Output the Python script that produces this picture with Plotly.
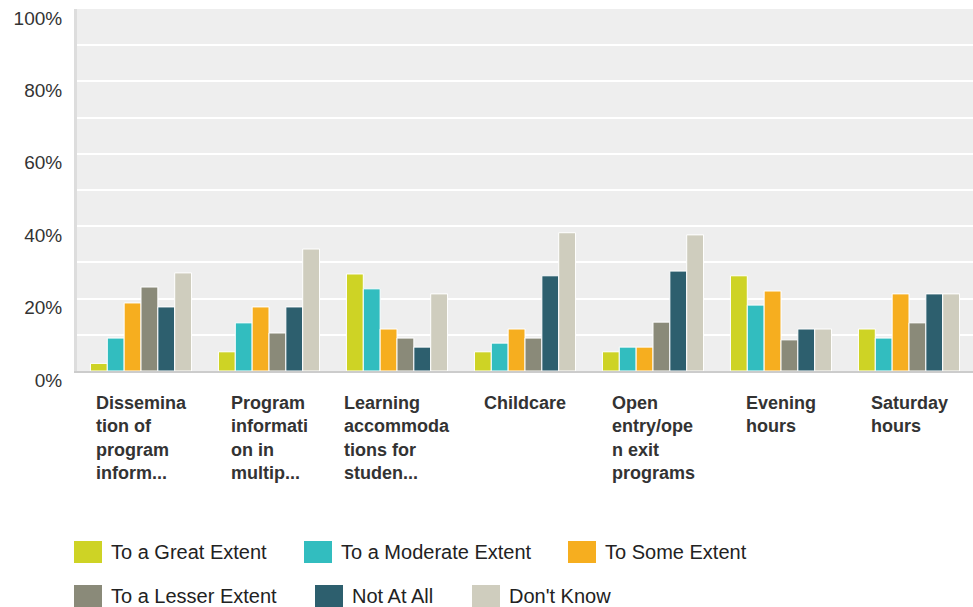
import plotly.graph_objects as go

# ---- data ----
categories = [
    "Dissemina<br>tion of<br>program<br>inform...",
    "Program<br>informati<br>on in<br>multip...",
    "Learning<br>accommoda<br>tions for<br>studen...",
    "Childcare",
    "Open<br>entry/ope<br>n exit<br>programs",
    "Evening<br>hours",
    "Saturday<br>hours",
]
series_names = ["To a Great Extent", "To a Moderate Extent", "To Some Extent",
                "To a Lesser Extent", "Not At All", "Don't Know"]
great_extent    = [2.1, 5.3, 26.8, 5.3, 5.3, 26.3, 11.6]
moderate_extent = [9.1, 13.3, 22.7, 7.7, 6.6, 18.2, 9.1]
some_extent     = [18.8, 17.7, 11.6, 11.6, 6.6, 22.1, 21.3]
lesser_extent   = [23.2, 10.5, 9.1, 9.1, 13.5, 8.6, 13.3]
not_at_all      = [17.7, 17.7, 6.6, 26.3, 27.6, 11.6, 21.3]
dont_know       = [27.1, 33.7, 21.3, 38.2, 37.6, 11.6, 21.3]
y_tick_values = [0, 20, 40, 60, 80, 100]
y_tick_labels = ["0%", "20%", "40%", "60%", "80%", "100%"]

colors = ["#CED325", "#32BDBF", "#F6AE1F", "#8A8A79", "#2D5F6E", "#CFCDBE"]
all_series = [great_extent, moderate_extent, some_extent, lesser_extent, not_at_all, dont_know]

W, H = 973, 607
L, R, T, B = 77, 0, 9, 236
PW, PH = W - L - R, H - T - B

fig = go.Figure()
xs = list(range(len(categories)))
for name, vals, col in zip(series_names, all_series, colors):
    fig.add_trace(go.Bar(x=xs, y=vals, name=name, marker=dict(color=col, line=dict(color="white", width=1)),
                         showlegend=False))

FONT = "Liberation Sans, Arial, sans-serif"

# category labels
for i, lab in enumerate(categories):
    fig.add_annotation(x=i, y=0, xref="x", yref="y", text="<b>" + lab + "</b>", showarrow=False,
                       xanchor="center", yanchor="top", align="left", xshift=0, yshift=-20,
                       font=dict(family=FONT, size=18, color="#333333"))

# custom legend
def px_x(x):
    return (x - L) / PW

def px_y(y):
    return (H - B - y) / PH

legend_rows = [(552, [74, 304, 568]), (596, [74, 315, 472])]
k = 0
for yc, xlist in legend_rows:
    for xl in xlist:
        fig.add_shape(type="rect", xref="paper", yref="paper",
                      x0=px_x(xl), x1=px_x(xl + 28), y0=px_y(yc + 11), y1=px_y(yc - 11),
                      fillcolor=colors[k], line=dict(width=0))
        fig.add_annotation(xref="paper", yref="paper", x=px_x(xl + 35), y=px_y(yc),
                           text=series_names[k], showarrow=False, xanchor="left", yanchor="middle",
                           font=dict(family=FONT, size=20, color="#222222"))
        k += 1

fig.update_layout(
    width=W, height=H, autosize=False,
    margin=dict(l=L, r=R, t=T, b=B, pad=0),
    paper_bgcolor="white", plot_bgcolor="#EEEEEE",
    barmode="group", bargap=0.21, bargroupgap=0,
    font=dict(family=FONT),
)
fig.update_xaxes(range=[-0.5, len(categories) - 0.5], showticklabels=False, showgrid=False,
                 showline=True, linecolor="#CCCCCC", linewidth=2, zeroline=False, fixedrange=True)
fig.update_yaxes(range=[0, 100], tickvals=y_tick_values, ticktext=y_tick_labels,
                 showgrid=True, gridcolor="white", gridwidth=2,
                 minor=dict(dtick=10, showgrid=True, gridcolor="white", gridwidth=2),
                 showline=True, linecolor="#DDDDDD", linewidth=3, zeroline=False,
                 ticklabelstandoff=8, ticklabelshift=9,
                 tickfont=dict(family=FONT, size=19, color="#333333"))

fig.write_html("out.html")
